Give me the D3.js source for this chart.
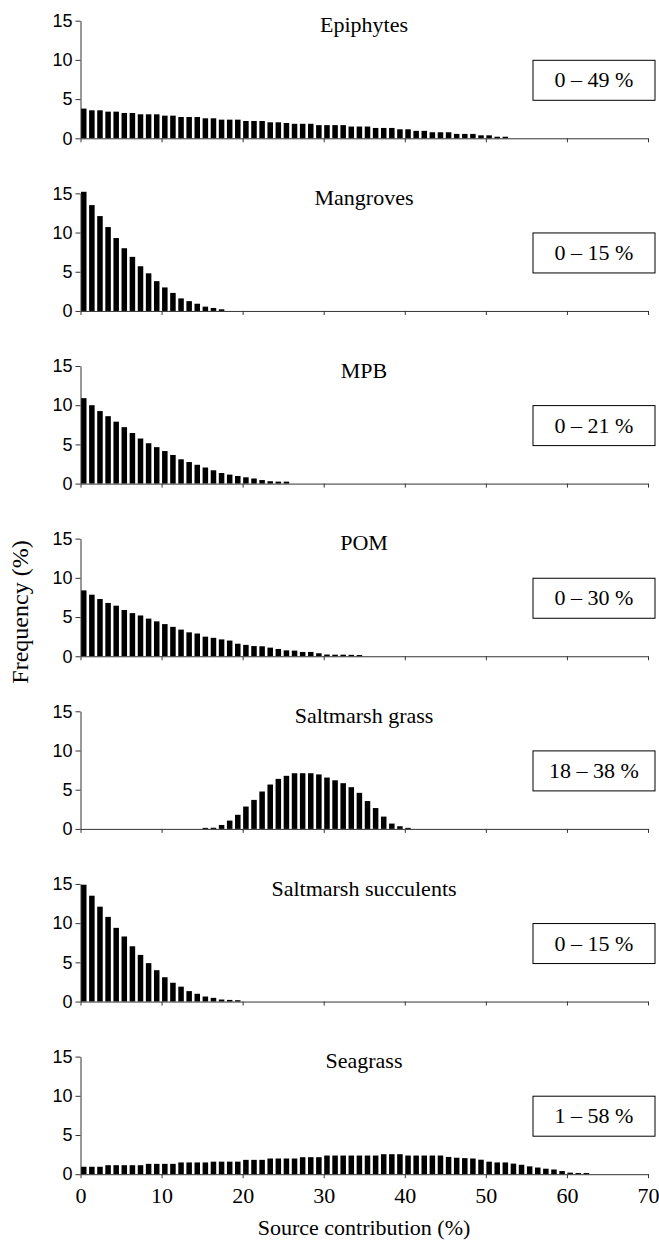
<!DOCTYPE html>
<html>
<head>
<meta charset="utf-8">
<script src="https://cdn.jsdelivr.net/npm/d3@7"></script>
<style>
  body { margin: 0; background: #fff; }
  .serif { font-family: "Liberation Serif", "Times New Roman", serif; fill: #000; }
  .ytick text { font-family: "Liberation Sans", Arial, sans-serif; font-size: 18px; fill: #000; }
  .domain, .tick line { stroke: #333; }
</style>
</head>
<body>
<div id="chart"></div>
<script>
// Source contribution bins (1 % wide), frequency (%) per bin
const epiphytes = [3.79, 3.57, 3.57, 3.4, 3.4, 3.23, 3.23, 3.06, 3.06, 3.06, 2.89, 2.89, 2.72, 2.72, 2.72,
  2.55, 2.55, 2.38, 2.38, 2.38, 2.21, 2.21, 2.21, 2.04, 2.04, 1.95, 1.85, 1.85, 1.85, 1.68, 1.68, 1.68, 1.68,
  1.5, 1.5, 1.5, 1.32, 1.32, 1.32, 1.15, 1.15, 0.95, 0.95, 0.77, 0.77, 0.77, 0.56, 0.56, 0.56, 0.38, 0.38, 0.2, 0.2];
const mangroves = [15.2, 13.5, 12.1, 10.7, 9.3, 8.0, 6.9, 5.7, 4.8, 3.8, 3.0, 2.3, 1.6, 1.25, 0.92, 0.55, 0.38, 0.21];
const mpb = [10.9, 10.0, 9.25, 8.6, 7.9, 7.2, 6.45, 5.75, 5.15, 4.65, 4.15, 3.65, 3.1, 2.75, 2.4, 2.05, 1.7,
  1.35, 1.15, 0.97, 0.8, 0.65, 0.45, 0.3, 0.25, 0.25];
const pom = [8.4, 7.85, 7.3, 6.8, 6.45, 5.9, 5.5, 5.2, 4.8, 4.45, 4.1, 3.75, 3.4, 3.05, 2.9, 2.5, 2.35, 2.15,
  2.0, 1.6, 1.45, 1.3, 1.27, 1.1, 0.93, 0.75, 0.72, 0.55, 0.55, 0.38, 0.22, 0.2, 0.2, 0.18, 0.15];
const saltGrass = [0, 0, 0, 0, 0, 0, 0, 0, 0, 0, 0, 0, 0, 0, 0,
  0.13, 0.15, 0.5, 1.06, 1.8, 2.85, 3.7, 4.77, 5.66, 6.38, 6.77, 7.1, 7.1, 7.1, 6.95, 6.55, 6.2, 5.83,
  5.32, 4.6, 3.55, 2.66, 1.57, 0.68, 0.34, 0.13];
const saltSucc = [14.9, 13.5, 12.1, 10.8, 9.4, 8.3, 7.05, 5.95, 4.9, 4.0, 3.1, 2.4, 1.9, 1.33, 0.99, 0.64,
  0.47, 0.26, 0.21, 0.17];
const seagrass = [0.95, 0.95, 0.95, 1.15, 1.15, 1.15, 1.15, 1.15, 1.32, 1.32, 1.32, 1.32, 1.5, 1.5, 1.5, 1.5,
  1.6, 1.6, 1.6, 1.6, 1.83, 1.83, 1.83, 2.0, 2.0, 2.0, 2.0, 2.17, 2.17, 2.17, 2.38, 2.38, 2.38, 2.38, 2.38,
  2.38, 2.38, 2.55, 2.55, 2.55, 2.38, 2.38, 2.38, 2.38, 2.38, 2.2, 2.1, 2.05, 2.0, 1.85, 1.6, 1.5, 1.5, 1.35,
  1.2, 1.0, 0.85, 0.7, 0.6, 0.4, 0.2, 0.15, 0.15];

const panelNames = ['Epiphytes', 'Mangroves', 'MPB', 'POM', 'Saltmarsh grass', 'Saltmarsh succulents', 'Seagrass'];
const panelRanges = ['0 \u2013 49 %', '0 \u2013 15 %', '0 \u2013 21 %', '0 \u2013 30 %', '18 \u2013 38 %', '0 \u2013 15 %', '1 \u2013 58 %'];
const panelData = [epiphytes, mangroves, mpb, pom, saltGrass, saltSucc, seagrass];
const yTicks = [0, 5, 10, 15];
const xTicks = [0, 10, 20, 30, 40, 50, 60, 70];

const W = 659, H = 1241;
const firstZero = 138.3, panelStep = 172.65, panelH = 117.6;
const barW = 0.68; // fraction of a 1 % bin

const svg = d3.select('#chart').append('svg')
  .attr('width', W).attr('height', H);

const x = d3.scaleLinear().domain([0, 70]).range([80.5, 648]);

panelData.forEach((vals, i) => {
  const zero = firstZero + i * panelStep;
  const y = d3.scaleLinear().domain([0, 15]).range([zero, zero - panelH]);
  const g = svg.append('g');

  // bars
  g.selectAll('rect.bar')
    .data(vals.map((v, k) => ({ k, v })).filter(d => d.v > 0))
    .join('rect')
    .attr('class', 'bar')
    .attr('x', d => x(d.k) + 0.5)
    .attr('width', x(barW) - x(0))
    .attr('y', d => y(d.v))
    .attr('height', d => zero - y(d.v))
    .attr('fill', '#000');

  // y axis
  g.append('g')
    .attr('class', 'ytick')
    .attr('transform', `translate(${x(0)},0)`)
    .call(d3.axisLeft(y).tickValues(yTicks).tickSize(5).tickSizeOuter(0).tickPadding(3));

  // x axis
  const last = i === panelData.length - 1;
  const xa = g.append('g')
    .attr('transform', `translate(0,${zero})`)
    .call(d3.axisBottom(x).tickValues(xTicks).tickSize(4).tickSizeOuter(0)
      .tickFormat(last ? d3.format('d') : ''));
  xa.selectAll('text')
    .attr('class', 'serif')
    .style('font-size', '22px')
    .attr('dy', '0')
    .attr('y', 29);

  // title
  g.append('text')
    .attr('class', 'serif')
    .attr('x', 364).attr('y', zero - 106)
    .attr('text-anchor', 'middle')
    .style('font-size', '22px')
    .text(panelNames[i]);

  // range box
  g.append('rect')
    .attr('x', 533).attr('y', zero - 78)
    .attr('width', 122).attr('height', 40)
    .attr('fill', '#fff').attr('stroke', '#000');
  g.append('text')
    .attr('class', 'serif')
    .attr('x', 594).attr('y', zero - 51)
    .attr('text-anchor', 'middle')
    .style('font-size', '22px')
    .text(panelRanges[i]);
});

svg.selectAll('.domain').attr('stroke', '#333');

// axis titles
svg.append('text')
  .attr('class', 'serif')
  .attr('x', 364).attr('y', 1235)
  .attr('text-anchor', 'middle')
  .style('font-size', '22px')
  .text('Source contribution (%)');

svg.append('text')
  .attr('class', 'serif')
  .attr('transform', 'translate(28,612) rotate(-90)')
  .attr('text-anchor', 'middle')
  .style('font-size', '24px')
  .text('Frequency (%)');
</script>
</body>
</html>
